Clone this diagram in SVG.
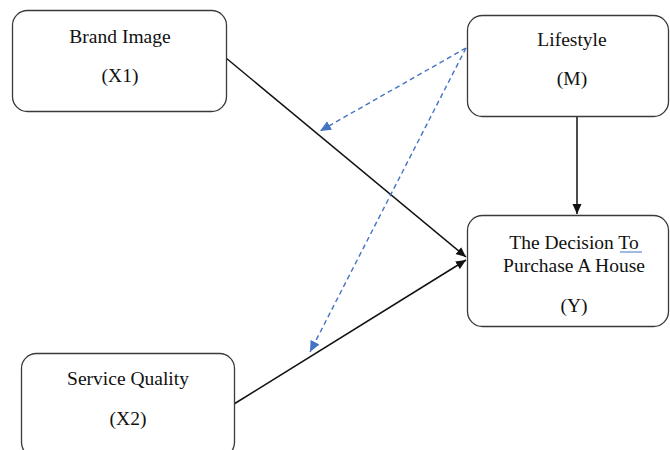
<svg xmlns="http://www.w3.org/2000/svg" width="670" height="450" viewBox="0 0 670 450">
<style>
.box{fill:#fff;stroke:#3a3a3a;stroke-width:1.3}
.t{font-family:"Liberation Serif","Times New Roman",serif;font-size:19.5px;fill:#111;text-anchor:middle}
.solid{stroke:#111;stroke-width:1.5;fill:none}
.dash{stroke:#4472C4;stroke-width:1.4;fill:none;stroke-dasharray:5,3.5}
</style>
<defs>
<marker id="ab" viewBox="0 0 10 10" refX="10" refY="5" markerWidth="10" markerHeight="10" markerUnits="userSpaceOnUse" orient="auto"><path d="M0,0.5 L10,5 L0,9.5 z" fill="#111"/></marker>
<marker id="ablue" viewBox="0 0 10 10" refX="10" refY="5" markerWidth="11" markerHeight="11" markerUnits="userSpaceOnUse" orient="auto"><path d="M0,0.5 L10,5 L0,9.5 z" fill="#4472C4"/></marker>
</defs>
<rect width="670" height="450" fill="#fff"/>
<g id="connectors">
<line class="solid" x1="226" y1="58" x2="466" y2="257" marker-end="url(#ab)"/>
<line class="solid" x1="234" y1="404" x2="466" y2="260" marker-end="url(#ab)"/>
<line class="solid" x1="577" y1="117" x2="577" y2="214" marker-end="url(#ab)"/>
<line class="dash" x1="466" y1="48" x2="320" y2="131" marker-end="url(#ablue)"/>
<line class="dash" x1="466" y1="48" x2="310" y2="352" marker-end="url(#ablue)"/>
</g>
<g id="brand-image">
<rect class="box" x="12.5" y="10.5" width="214" height="101" rx="15"/>
<text class="t" x="120" y="43">Brand Image</text>
<text class="t" x="120" y="82">(X1)</text>
</g>
<g id="lifestyle">
<rect class="box" x="467.5" y="15.5" width="201" height="101" rx="15"/>
<text class="t" x="572" y="46">Lifestyle</text>
<text class="t" x="572" y="85">(M)</text>
</g>
<g id="decision">
<rect class="box" x="467.5" y="215.5" width="201" height="111" rx="15"/>
<text class="t" x="574" y="249">The Decision To</text>
<line x1="620" y1="252" x2="642" y2="252" stroke="#4472C4" stroke-width="1"/>
<text class="t" x="574" y="272">Purchase A House</text>
<text class="t" x="574" y="312">(Y)</text>
</g>
<g id="service-quality">
<rect class="box" x="21.5" y="353.5" width="213" height="104" rx="15"/>
<text class="t" x="128" y="385">Service Quality</text>
<text class="t" x="128" y="425">(X2)</text>
</g>
</svg>
